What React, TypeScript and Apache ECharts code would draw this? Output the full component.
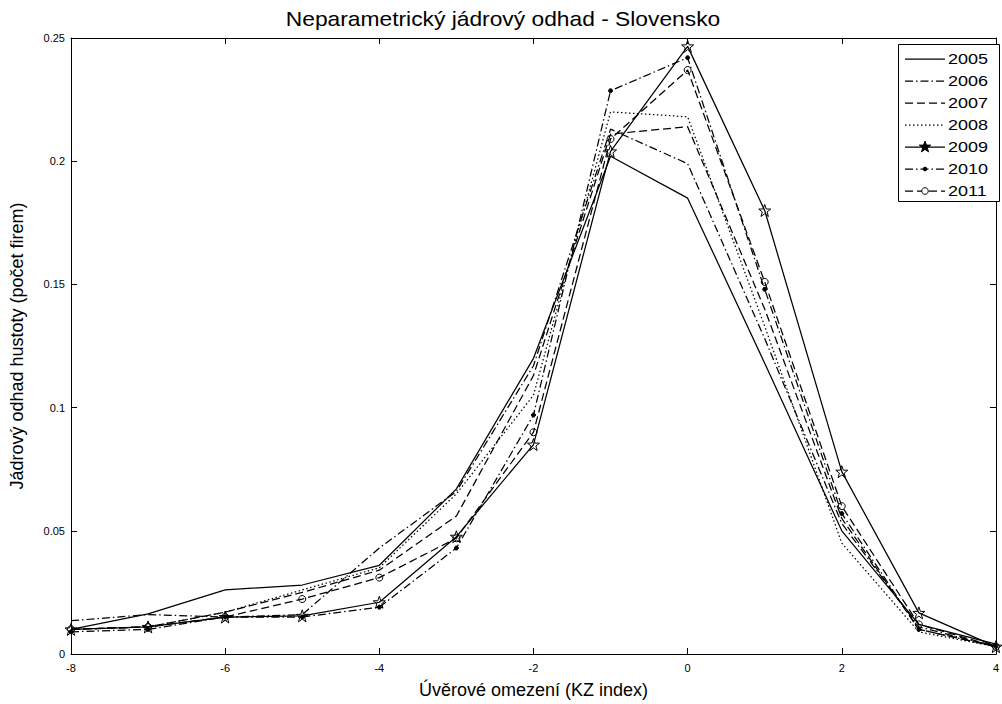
import React, { useEffect, useRef } from "react";
import * as echarts from "echarts";

// KZ index grid points
const kzIndex = [-8, -7, -6, -5, -4, -3, -2, -1, 0, 1, 2, 3, 4];

// Kernel density estimates per year
const y2005 = [0.010, 0.0163, 0.026, 0.028, 0.036, 0.067, 0.120, 0.202, 0.185, 0.118, 0.050, 0.012, 0.004];
const y2006 = [0.0135, 0.016, 0.015, 0.016, 0.043, 0.066, 0.117, 0.213, 0.199, 0.128, 0.053, 0.011, 0.003];
const y2007 = [0.010, 0.011, 0.017, 0.025, 0.034, 0.056, 0.113, 0.211, 0.214, 0.140, 0.055, 0.010, 0.003];
const y2008 = [0.010, 0.011, 0.017, 0.026, 0.035, 0.065, 0.105, 0.220, 0.218, 0.133, 0.045, 0.009, 0.003];
const y2009 = [0.010, 0.011, 0.015, 0.0155, 0.021, 0.0476, 0.085, 0.204, 0.2466, 0.180, 0.074, 0.0167, 0.003];
const y2010 = [0.009, 0.010, 0.015, 0.015, 0.019, 0.043, 0.097, 0.2286, 0.242, 0.148, 0.057, 0.010, 0.003];
const y2011 = [0.010, 0.011, 0.015, 0.0223, 0.031, 0.047, 0.090, 0.209, 0.237, 0.151, 0.060, 0.012, 0.003];

const years = ["2005", "2006", "2007", "2008", "2009", "2010", "2011"];
const xTicks = [-8, -6, -4, -2, 0, 2, 4];
const yTicks = [0, 0.05, 0.1, 0.15, 0.2, 0.25];

const FONT = "'Liberation Sans', Arial, Helvetica, sans-serif";

const DASH = [8, 4];
const DOT = [1.5, 2.5];
const DASHDOT = [8, 3, 1.5, 3];

type Marker = "none" | "star" | "dot" | "circle";

// line style and marker per year
const styles: { dash: number[] | null; marker: Marker }[] = [
  { dash: null, marker: "none" },
  { dash: DASHDOT, marker: "none" },
  { dash: DASH, marker: "none" },
  { dash: DOT, marker: "none" },
  { dash: null, marker: "star" },
  { dash: DASHDOT, marker: "dot" },
  { dash: DASH, marker: "circle" },
];

function starPoints(cx: number, cy: number, R: number): number[][] {
  const pts: number[][] = [];
  for (let i = 0; i < 10; i++) {
    const r = i % 2 === 0 ? R : R * 0.4;
    const a = -Math.PI / 2 + (i * Math.PI) / 5;
    pts.push([cx + r * Math.cos(a), cy + r * Math.sin(a)]);
  }
  return pts;
}

function starPath(): string {
  const pts = starPoints(0, 0, 1).map((p) => `${p[0].toFixed(3)} ${p[1].toFixed(3)}`);
  return "path://M" + pts.join(" L") + " Z";
}

const markerSymbol: Record<Marker, { symbol: string; size: number; fill: string }> = {
  none: { symbol: "none", size: 0, fill: "#000" },
  star: { symbol: starPath(), size: 12, fill: "rgba(255,255,255,0)" },
  dot: { symbol: "circle", size: 4, fill: "#000" },
  circle: { symbol: "circle", size: 7, fill: "rgba(255,255,255,0)" },
};

const seriesValues = [y2005, y2006, y2007, y2008, y2009, y2010, y2011];

export default function App() {
  const ref = useRef<HTMLDivElement>(null);

  useEffect(() => {
    if (!ref.current) return;
    const chart = echarts.init(ref.current, undefined, { renderer: "svg" });

    const series = years.map((name, k) => {
      const st = styles[k];
      const m = markerSymbol[st.marker];
      return {
        name,
        type: "line",
        data: kzIndex.map((x, i) => [x, seriesValues[k][i]]),
        symbol: m.symbol,
        symbolSize: m.size,
        showSymbol: st.marker !== "none",
        lineStyle: { color: "#000", width: 1.25, type: st.dash ?? "solid" },
        itemStyle: { color: m.fill, borderColor: "#000", borderWidth: 1 },
        emphasis: { disabled: true },
      };
    });

    // legend box drawn as graphics
    const boxX = 898;
    const boxY = 44;
    const rowH = 22;
    const row0 = 59;
    const legendEls: any[] = [
      {
        type: "rect",
        shape: { x: boxX + 0.5, y: boxY + 0.5, width: 101, height: 157 },
        style: { fill: "#fff", stroke: "#000", lineWidth: 1 },
        z: 10,
      },
    ];
    years.forEach((name, k) => {
      const st = styles[k];
      const cy = row0 + k * rowH;
      legendEls.push({
        type: "line",
        shape: { x1: 905, y1: cy, x2: 945, y2: cy },
        style: { stroke: "#000", lineWidth: 1.25, lineDash: st.dash ?? null },
        z: 11,
      });
      if (st.marker === "star") {
        legendEls.push({
          type: "polygon",
          shape: { points: starPoints(925, cy, 6) },
          style: { fill: "#000", stroke: "#000", lineWidth: 1 },
          z: 12,
        });
      } else if (st.marker === "dot") {
        legendEls.push({
          type: "circle",
          shape: { cx: 925, cy, r: 2.2 },
          style: { fill: "#000" },
          z: 12,
        });
      } else if (st.marker === "circle") {
        legendEls.push({
          type: "circle",
          shape: { cx: 925, cy, r: 3.3 },
          style: { fill: "#fff", stroke: "#000", lineWidth: 1 },
          z: 12,
        });
      }
      legendEls.push({
        type: "text",
        x: 948,
        y: cy,
        scaleX: 1.2,
        style: {
          text: name,
          font: `15px ${FONT}`,
          fill: "#000",
          align: "left",
          verticalAlign: "middle",
        },
        z: 12,
      });
    });

    const axisCommon = {
      type: "value",
      axisLine: { show: true, onZero: false, lineStyle: { color: "#000", width: 1 } },
      axisTick: { show: true, inside: true, length: 6, lineStyle: { color: "#000" } },
      splitLine: { show: false },
    };

    chart.setOption({
      animation: false,
      backgroundColor: "#fff",
      textStyle: { fontFamily: FONT },
      grid: { left: 64, right: 1, top: 38, bottom: 42 },
      graphic: [
        {
          type: "text",
          x: 503,
          y: 19,
          scaleX: 1.14,
          style: {
            text: "Neparametrický jádrový odhad - Slovensko",
            font: `20px ${FONT}`,
            fill: "#000",
            align: "center",
            verticalAlign: "middle",
          },
        },
        ...legendEls,
      ],
      xAxis: [
        {
          ...axisCommon,
          min: xTicks[0],
          max: xTicks[xTicks.length - 1],
          interval: 2,
          position: "bottom",
          name: "Úvěrové omezení (KZ index)",
          nameLocation: "middle",
          nameGap: 27,
          nameTextStyle: { fontSize: 18, color: "#000", fontFamily: FONT },
          axisLabel: { color: "#000", fontSize: 11, margin: 8, fontFamily: FONT },
        },
        {
          ...axisCommon,
          min: xTicks[0],
          max: xTicks[xTicks.length - 1],
          interval: 2,
          position: "top",
          axisLabel: { show: false },
        },
      ],
      yAxis: [
        {
          ...axisCommon,
          min: yTicks[0],
          max: yTicks[yTicks.length - 1],
          interval: 0.05,
          position: "left",
          name: "Jádrový odhad hustoty (počet firem)",
          nameLocation: "middle",
          nameGap: 45,
          nameTextStyle: { fontSize: 18, color: "#000", fontFamily: FONT },
          axisLabel: { color: "#000", fontSize: 11, margin: 6, fontFamily: FONT },
        },
        {
          ...axisCommon,
          min: yTicks[0],
          max: yTicks[yTicks.length - 1],
          interval: 0.05,
          position: "right",
          axisLabel: { show: false },
        },
      ],
      series,
    });
    return () => chart.dispose();
  }, []);

  return (
    <div
      ref={ref}
      style={{ position: "fixed", left: 0, top: 0, width: 1002, height: 704, background: "#fff" }}
    />
  );
}
